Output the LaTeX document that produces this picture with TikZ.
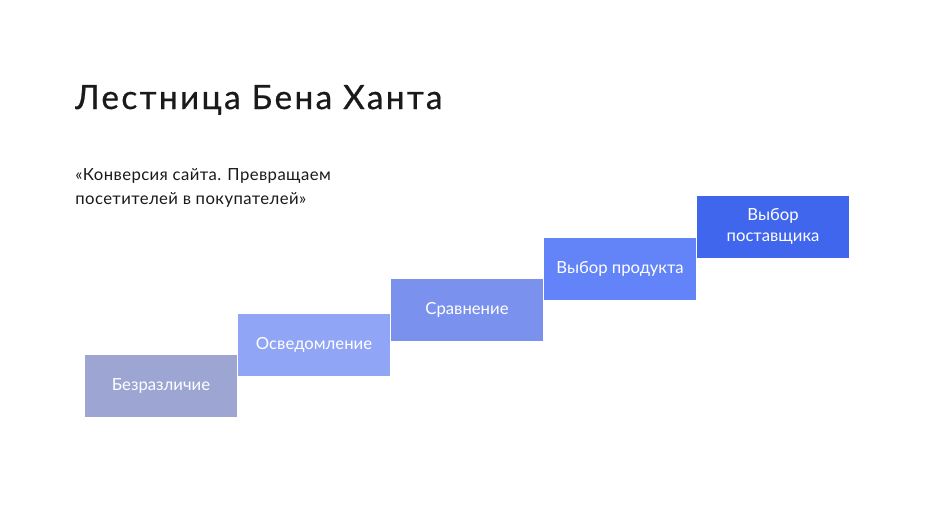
\documentclass[tikz,border=0pt]{standalone}
\usepackage{fontspec}
\setmainfont{Lato}
\newfontfamily\titlefont{Lato}[LetterSpace=7, FakeBold=0.6]
\newfontfamily\quotefont{Lato}[LetterSpace=2.5]
\usepackage{tikz}
\usetikzlibrary{positioning}

\definecolor{stepA}{HTML}{9DA6D3}
\definecolor{stepB}{HTML}{91A5F6}
\definecolor{stepC}{HTML}{7A92EE}
\definecolor{stepD}{HTML}{6384F8}
\definecolor{stepE}{HTML}{4166EE}
\definecolor{ink}{HTML}{1A1A1A}

\begin{document}
\begin{tikzpicture}[x=0.02cm, y=-0.02cm,
  stair/.style={minimum width=3.04cm, minimum height=1.24cm, inner sep=0pt,
    text=white, align=center, font=\fontsize{9.5}{11.5}\selectfont}]

  % Canvas
  \useasboundingbox[fill=white] (0,0) rectangle (940,529);

  % Title and quote
  \node[anchor=base west, inner sep=0pt, text=ink,
    font=\titlefont\fontsize{19}{23}\selectfont] (title) at (75,109) {Лестница Бена Ханта};
  \node[anchor=north west, inner sep=0pt, text=ink, align=left,
    font=\quotefont\fontsize{9.5}{13.6}\selectfont] (quote) at (75,168)
    {«Конверсия сайта. Превращаем\\посетителей в покупателей»};

  % === Steps of the ladder
  \node[stair, fill=stepA] (indiff) at (161,386) {Безразличие};
  \node[stair, fill=stepB] (aware) at (314,344.5) {Осведомление};
  \node[stair, fill=stepC] (compare) at (467,309.5) {Сравнение};
  \node[stair, fill=stepD] (product) at (620,268.5) {Выбор продукта};
  \node[stair, fill=stepE] (vendor) at (773,226.5) {Выбор\\поставщика};

\end{tikzpicture}
\end{document}
